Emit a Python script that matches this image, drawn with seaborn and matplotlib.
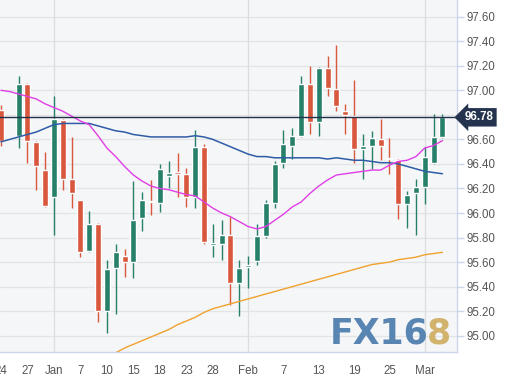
import numpy as np
import pandas as pd
import matplotlib
matplotlib.use("Agg")
import matplotlib.pyplot as plt
import matplotlib.transforms as mtransforms
import seaborn as sns

# daily candles, one slot per trading day (slot 1 = holiday gap)
opens = [96.84, np.nan, 96.63, 97.05, 96.58, 96.35, 96.13, 96.76, 96.28, 96.11,
         95.69, 95.91, 95.20, 95.55, 95.65, 95.60, 95.96, 96.10, 96.08, 96.30,
         96.33, 96.32, 96.13, 96.54, 95.74, 95.75, 95.82, 95.43, 95.56, 95.61,
         95.81, 96.08, 96.41, 96.55, 96.63, 97.05, 96.74, 97.18, 97.01, 96.83,
         96.79, 96.52, 96.55, 96.60, 96.45, 96.43, 96.07, 96.16, 96.21, 96.41, 96.62]
highs = [96.88, np.nan, 97.12, 97.06, 96.59, 96.50, 96.95, 96.77, 96.62, 96.11,
         96.02, 95.92, 95.62, 95.75, 95.71, 96.26, 96.17, 96.27, 96.40, 96.42,
         96.49, 96.37, 96.68, 96.56, 95.91, 95.94, 95.97, 95.62, 95.65, 95.91,
         96.11, 96.42, 96.68, 96.69, 97.12, 97.20, 97.19, 97.28, 97.37, 96.89,
         97.08, 96.64, 96.67, 96.77, 96.61, 96.44, 96.18, 96.28, 96.54, 96.81, 96.81]
lows = [96.55, np.nan, 96.53, 96.41, 96.19, 96.05, 95.82, 96.19, 96.04, 95.64,
        95.68, 95.11, 95.02, 95.18, 95.48, 95.47, 95.85, 95.98, 96.01, 96.20,
        96.13, 96.05, 96.04, 95.75, 95.64, 95.62, 95.25, 95.16, 95.39, 95.58,
        95.80, 96.04, 96.37, 96.44, 96.62, 96.64, 96.63, 96.95, 96.83, 96.64,
        96.41, 96.28, 96.36, 96.43, 96.32, 95.95, 95.88, 95.82, 96.07, 96.40, 96.61]
closes = [96.59, np.nan, 97.05, 96.59, 96.38, 96.06, 96.77, 96.28, 96.16, 95.68,
          95.91, 95.20, 95.54, 95.68, 95.60, 95.94, 96.11, 96.09, 96.36, 96.33,
          96.32, 96.13, 96.54, 95.76, 95.75, 95.82, 95.43, 95.55, 95.58, 95.81,
          96.08, 96.40, 96.56, 96.63, 97.05, 96.74, 97.18, 97.02, 96.87, 96.80,
          96.52, 96.55, 96.61, 96.55, 96.44, 96.07, 96.15, 96.21, 96.46, 96.62, 96.78]

# moving averages
ma_fast = [97.00, 96.99, 96.97, 96.95, 96.93, 96.89, 96.86, 96.83, 96.79, 96.75,
           96.72, 96.63, 96.53, 96.46, 96.38, 96.31, 96.26, 96.22, 96.20, 96.19,
           96.17, 96.15, 96.14, 96.09, 96.04, 96.00, 95.97, 95.93, 95.89, 95.87,
           95.89, 95.94, 95.99, 96.05, 96.09, 96.16, 96.22, 96.27, 96.31, 96.32,
           96.33, 96.34, 96.35, 96.35, 96.39, 96.42, 96.43, 96.46, 96.53, 96.55, 96.59]
ma_mid = [96.58, 96.60, 96.62, 96.64, 96.66, 96.69, 96.72, 96.73, 96.73, 96.73,
          96.73, 96.71, 96.69, 96.67, 96.66, 96.64, 96.63, 96.62, 96.62, 96.62,
          96.62, 96.62, 96.63, 96.62, 96.60, 96.57, 96.54, 96.51, 96.48, 96.46,
          96.46, 96.45, 96.45, 96.45, 96.45, 96.45, 96.45, 96.44, 96.45, 96.44,
          96.43, 96.43, 96.42, 96.41, 96.41, 96.40, 96.38, 96.36, 96.34, 96.33, 96.32]
ma_slow = [np.nan] * 12 + [
           94.83, 94.86, 94.90, 94.93, 94.96, 94.99, 95.02, 95.05,
           95.09, 95.12, 95.15, 95.19, 95.22, 95.24, 95.26, 95.28, 95.30, 95.32,
           95.34, 95.36, 95.38, 95.40, 95.42, 95.44, 95.46, 95.48, 95.50, 95.52,
           95.54, 95.56, 95.58, 95.59, 95.60, 95.62, 95.63, 95.64, 95.66, 95.67, 95.68]

last_price = 96.78
tick_pos = [0, 3, 6, 9, 12, 15, 18, 21, 24, 28, 32, 36, 40, 44, 48]
tick_labels = ["24", "27", "Jan", "7", "10", "15", "18", "23", "28", "Feb", "7", "13", "19", "25", "Mar"]
month_lines = [6, 28, 48]
y_ticks = [95.0, 95.2, 95.4, 95.6, 95.8, 96.0, 96.2, 96.4, 96.6, 96.8, 97.0, 97.2, 97.4, 97.6]

df = pd.DataFrame({"open": opens, "high": highs, "low": lows, "close": closes,
                   "ma_fast": ma_fast, "ma_mid": ma_mid, "ma_slow": ma_slow})
df["slot"] = np.arange(len(df))

sns.set_style("white")
plt.rcParams["font.family"] = ["Liberation Sans", "DejaVu Sans"]

GREEN = "#27806a"
RED = "#d9573d"
AX_COL = "#ccd6eb"
TXT = "#555555"

fig = plt.figure(figsize=(5.07, 3.80), dpi=100)
ax = fig.add_axes([0, 27.7 / 380, 457 / 507, 352.3 / 380])
ax.set_facecolor("#f5f6f8")

for y in y_ticks:
    ax.axhline(y, color="#e3e4e6", lw=0.9, zorder=0)
for m in month_lines:
    ax.axvline(m, color="#dcdde0", lw=0.9, zorder=0)

ok = df.dropna(subset=["open"])
col = np.where(ok["close"] >= ok["open"], GREEN, RED)
ax.vlines(ok["slot"], ok["low"], ok["high"], colors=col, lw=1.0, zorder=2)
body_lo = np.minimum(ok["open"], ok["close"])
body_h = np.maximum(np.abs(ok["close"] - ok["open"]), 0.012)
ax.bar(ok["slot"], body_h, bottom=body_lo, width=0.68, color=col, zorder=3)

sns.lineplot(data=df, x="slot", y="ma_slow", color="#f0a12e", lw=1.0, ax=ax, zorder=4)
sns.lineplot(data=df, x="slot", y="ma_mid", color="#2f5ca6", lw=1.1, ax=ax, zorder=4)
sns.lineplot(data=df, x="slot", y="ma_fast", color="#e03ee6", lw=1.0, ax=ax, zorder=4)

ax.axhline(last_price, color="#22304a", lw=1.0, zorder=5)

ax.set_xlim(-0.1, 51.65)
ax.set_ylim(94.865, 97.736)
ax.set_xlabel("")
ax.set_ylabel("")

ax.set_xticks(tick_pos)
ax.set_xticklabels(tick_labels)
ax.set_yticks(y_ticks)
# the 96.80 label sits behind the last-price tag
ax.set_yticklabels(["" if abs(v - 96.8) < 1e-6 else f"{v:.2f}" for v in y_ticks])
ax.yaxis.tick_right()
ax.tick_params(axis="x", length=5, width=1, color=AX_COL, colors=TXT, labelsize=8.3, pad=4)
ax.tick_params(axis="y", length=5, width=1, color=AX_COL, colors=TXT, labelsize=8.3, pad=2)
for s in ["top", "left"]:
    ax.spines[s].set_visible(False)
for s in ["bottom", "right"]:
    ax.spines[s].set_color(AX_COL)
    ax.spines[s].set_linewidth(1)

# last price tag
tr = mtransforms.blended_transform_factory(fig.transFigure, ax.transData)
ax.text(479 / 507, last_price, f"{last_price:.2f}", transform=tr, ha="center", va="center",
        color="white", fontsize=8.3, fontweight="bold", clip_on=False, zorder=6,
        bbox=dict(boxstyle="larrow,pad=0.28", fc="#24344f", ec="none"))

# watermark
fig.text(330 / 507, 37 / 380, "FX16", color="#4f7fae", fontsize=25, fontweight="bold",
         family="DejaVu Sans", ha="left", va="baseline", alpha=0.95)
fig.text(427 / 507, 37 / 380, "8", color="#d1b066", fontsize=25, fontweight="bold",
         family="DejaVu Sans", ha="left", va="baseline", alpha=0.95)

fig.savefig("out.png", dpi=100, facecolor="white")
